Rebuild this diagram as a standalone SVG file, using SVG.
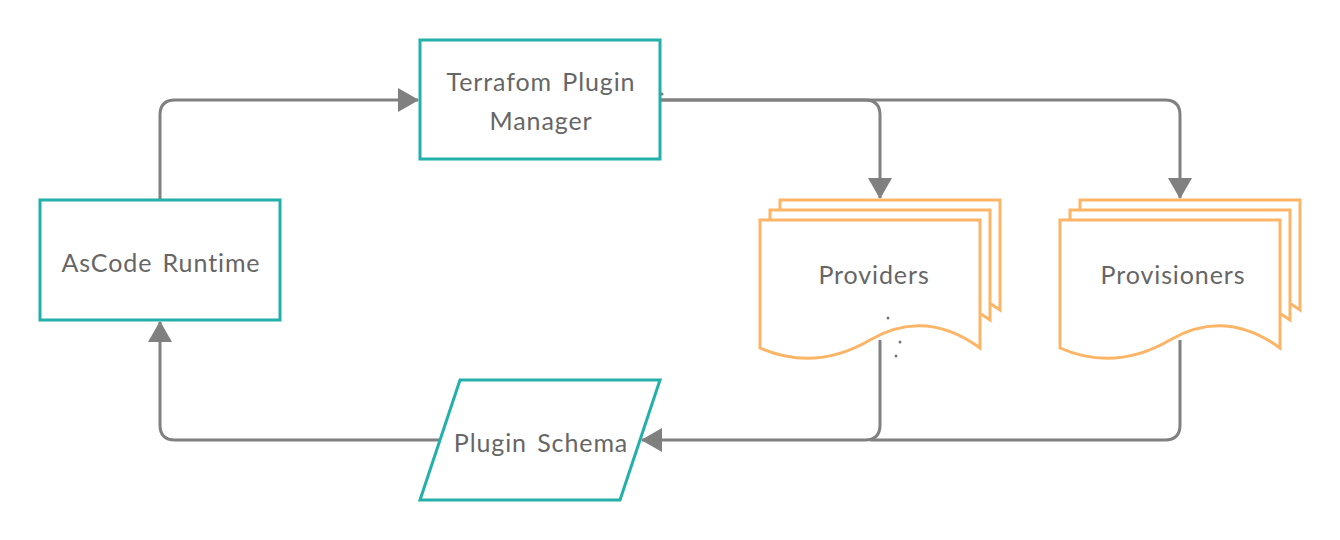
<svg xmlns="http://www.w3.org/2000/svg" width="1340" height="540" viewBox="0 0 1340 540">
<defs>
<style>
.box{fill:#fff;stroke:#22b0aa;stroke-width:3}
.doc{fill:#fff;stroke:#fcb566;stroke-width:3;stroke-linejoin:miter}
.conn{fill:none;stroke:#808080;stroke-width:3}
.lbl{font-family:Lato,"Open Sans",sans-serif;font-size:25px;letter-spacing:0.9px;fill:#666;text-anchor:middle}
.dot{fill:#777}
</style>
<marker id="arr" markerUnits="userSpaceOnUse" markerWidth="22" markerHeight="26" refX="20" refY="12" orient="auto" viewBox="0 0 22 26">
<path d="M0,0 L21,12 L0,24 z" fill="#808080"/>
</marker>
</defs>
<rect width="1340" height="540" fill="#fff"/>
<g id="connectors">
<path class="conn" d="M160,200 V115 Q160,100 175,100 H418" marker-end="url(#arr)"/>
<path class="conn" d="M660,100 H1165 Q1180,100 1180,115 V198" marker-end="url(#arr)"/>
<path class="conn" d="M660,100 H865 Q880,100 880,115 V198" marker-end="url(#arr)"/>
<path class="conn" d="M880,340 V425 Q880,440 865,440 H642" marker-end="url(#arr)"/>
<path class="conn" d="M1180,340 V425 Q1180,440 1165,440 H870"/>
<path class="conn" d="M440,440 H175 Q160,440 160,425 V322" marker-end="url(#arr)"/>
</g>
<g id="terraform">
<rect class="box" x="420" y="40" width="240" height="119"/>
<text class="lbl" x="541" y="91" word-spacing="3">Terrafom Plugin</text>
<text class="lbl" x="541" y="130">Manager</text>
<circle class="dot" cx="662" cy="94" r="1.5"/>
</g>
<g id="ascode">
<rect class="box" x="40" y="200" width="240" height="120"/>
<text class="lbl" x="161" y="272" word-spacing="3">AsCode Runtime</text>
</g>
<g id="schema">
<polygon class="box" points="460,380 660,380 620,500 420,500"/>
<text class="lbl" x="541" y="452" word-spacing="3">Plugin Schema</text>
</g>
<g id="providers">
<path class="doc" d="M780,212 V200 H1000 V310 L991,304"/>
<path class="doc" d="M770,222 V210 H990 V320 L981,314"/>
<path class="doc" d="M760,220 H980 V348 Q925,308 870,340 Q815,372 760,348 Z"/>
<text class="lbl" x="874" y="284">Providers</text>
<circle class="dot" cx="888" cy="318" r="1.5"/>
<circle class="dot" cx="900" cy="342" r="1.5"/>
<circle class="dot" cx="896" cy="356" r="1.5"/>
</g>
<g id="provisioners">
<path class="doc" d="M1080,212 V200 H1300 V310 L1291,304"/>
<path class="doc" d="M1070,222 V210 H1290 V320 L1281,314"/>
<path class="doc" d="M1060,220 H1280 V348 Q1225,308 1170,340 Q1115,372 1060,348 Z"/>
<text class="lbl" x="1173" y="284">Provisioners</text>
</g>
</svg>
